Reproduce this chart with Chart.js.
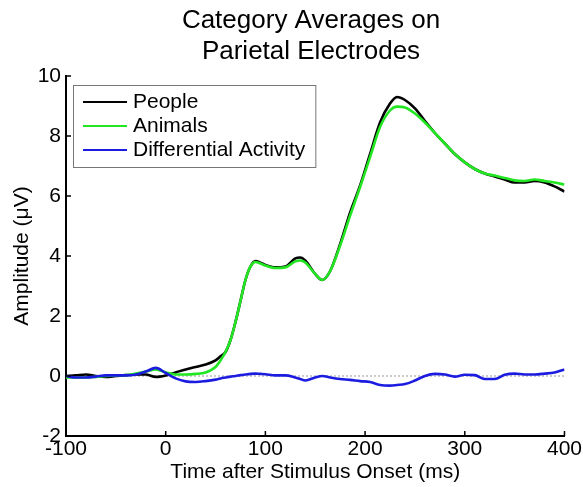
<!DOCTYPE html>
<html>
<head>
<meta charset="utf-8">
<script src="https://cdn.jsdelivr.net/npm/chart.js@4.4.1/dist/chart.umd.min.js"></script>
<style>
  html, body { margin: 0; padding: 0; background: #fff; }
  #wrap { width: 583px; height: 487px; }
</style>
</head>
<body>
<div id="wrap"><canvas id="chart"></canvas></div>
<script>
// Time points (ms after stimulus onset)
const timeMs = [-100, -90, -80, -70, -60, -50, -40, -30, -20, -10, 0, 10, 20, 30, 40, 50, 55, 60, 65, 70,
  75, 80, 85, 90, 95, 100, 110, 120, 130, 135, 140, 150, 157, 165, 175, 185, 195, 205, 215, 225,
  232, 240, 250, 260, 270, 280, 290, 300, 310, 320, 330, 340, 350, 360, 370, 380, 390, 400];

// Amplitudes (uV)
const people = [0.0, 0.02, 0.05, 0.0, -0.03, 0.0, 0.03, 0.05, 0.05, -0.03, 0.02, 0.12, 0.22, 0.3, 0.38, 0.52, 0.66, 0.8, 1.2, 1.8,
  2.5, 3.2, 3.65, 3.83, 3.78, 3.7, 3.62, 3.65, 3.92, 3.95, 3.85, 3.4, 3.2, 3.5, 4.4, 5.45, 6.35, 7.4, 8.45, 9.08,
  9.3, 9.2, 8.92, 8.5, 8.1, 7.75, 7.4, 7.12, 6.9, 6.75, 6.65, 6.55, 6.45, 6.45, 6.5, 6.45, 6.32, 6.15];

const animals = [-0.05, -0.05, -0.05, -0.03, 0.0, 0.02, 0.03, 0.08, 0.15, 0.22, 0.12, 0.05, 0.05, 0.07, 0.12, 0.3, 0.52, 0.8, 1.2, 1.8,
  2.5, 3.2, 3.65, 3.8, 3.75, 3.68, 3.6, 3.62, 3.82, 3.85, 3.78, 3.4, 3.2, 3.5, 4.35, 5.35, 6.3, 7.3, 8.3, 8.85,
  8.98, 8.95, 8.75, 8.45, 8.1, 7.75, 7.4, 7.12, 6.9, 6.75, 6.68, 6.6, 6.52, 6.5, 6.55, 6.5, 6.45, 6.38];

const differential = [0.0, -0.05, -0.05, -0.02, 0.02, 0.02, 0.02, 0.05, 0.15, 0.27, 0.1, -0.08, -0.18, -0.2, -0.17, -0.12, -0.08, -0.05, -0.02, 0.0,
  0.03, 0.05, 0.07, 0.08, 0.07, 0.06, 0.02, 0.02, -0.05, -0.1, -0.15, -0.05, 0.0, -0.05, -0.1, -0.13, -0.17, -0.2, -0.3, -0.32,
  -0.3, -0.27, -0.15, 0.0, 0.07, 0.05, -0.02, 0.04, 0.03, -0.1, -0.1, 0.04, 0.08, 0.05, 0.05, 0.08, 0.12, 0.22];

const xTicks = [-100, 0, 100, 200, 300, 400];
const yTicks = [-2, 0, 2, 4, 6, 8, 10];
const titleLines = ['Category Averages on', 'Parietal Electrodes'];

const FONT = "'Liberation Sans', Arial, sans-serif";

const toPoints = vals => vals.map((v, i) => ({ x: timeMs[i], y: v }));

// Title, inward tick marks and the boxed legend, MATLAB style
const matlabLook = {
  id: 'matlabLook',
  afterDraw(chart) {
    const ctx = chart.ctx;
    const area = chart.chartArea;
    const xs = chart.scales.x;
    const ys = chart.scales.y;

    ctx.save();
    // Inward ticks
    ctx.strokeStyle = '#000';
    ctx.lineWidth = 1.5;
    ctx.beginPath();
    xTicks.forEach(t => {
      const px = xs.getPixelForValue(t);
      ctx.moveTo(px, area.bottom);
      ctx.lineTo(px, area.bottom - 5);
    });
    yTicks.forEach(t => {
      const py = ys.getPixelForValue(t);
      ctx.moveTo(area.left, py);
      ctx.lineTo(area.left + 5, py);
    });
    ctx.stroke();

    // Title
    ctx.fillStyle = '#000';
    ctx.font = '26px ' + FONT;
    ctx.textAlign = 'center';
    ctx.textBaseline = 'alphabetic';
    titleLines.forEach((line, i) => ctx.fillText(line, 311, 28 + i * 31));

    // Legend
    const items = chart.data.datasets.filter(d => d.label);
    ctx.font = '21px ' + FONT;
    const textW = Math.max(...items.map(d => ctx.measureText(d.label).width));
    const bx = area.left + 7, by = area.top + 9;
    const bw = 60 + textW + 10, bh = 82;
    ctx.fillStyle = '#fff';
    ctx.fillRect(bx, by, bw, bh);
    ctx.strokeStyle = '#777';
    ctx.lineWidth = 1;
    ctx.strokeRect(bx + 0.5, by + 0.5, bw, bh);
    items.forEach((d, i) => {
      const cy = by + 17 + i * 24;
      ctx.strokeStyle = d.borderColor;
      ctx.lineWidth = 2;
      ctx.beginPath();
      ctx.moveTo(bx + 10, cy);
      ctx.lineTo(bx + 54, cy);
      ctx.stroke();
      ctx.fillStyle = '#000';
      ctx.textAlign = 'left';
      ctx.textBaseline = 'middle';
      ctx.fillText(d.label, bx + 60, cy);
    });
    ctx.restore();
  }
};

new Chart(document.getElementById('chart'), {
  type: 'line',
  data: {
    datasets: [
      { label: 'People', data: toPoints(people), borderColor: '#000000', borderWidth: 2.6, order: 3 },
      { label: 'Animals', data: toPoints(animals), borderColor: '#22e622', borderWidth: 2.6, order: 2 },
      { label: 'Differential Activity', data: toPoints(differential), borderColor: '#1c1ce0', borderWidth: 2.6, order: 1 },
      { data: [{ x: -100, y: 0 }, { x: 400, y: 0 }], borderColor: '#999', borderWidth: 1.2, borderDash: [2, 2], order: 4 }
    ]
  },
  options: {
    responsive: true,
    maintainAspectRatio: false,
    animation: false,
    layout: { padding: { top: 76, right: 17, left: 0, bottom: 0 } },
    elements: {
      point: { radius: 0 },
      line: { cubicInterpolationMode: 'monotone', fill: false }
    },
    plugins: {
      legend: { display: false },
      title: { display: false },
      tooltip: { enabled: false }
    },
    scales: {
      x: {
        type: 'linear',
        min: -100,
        max: 400,
        afterFit: s => { s.height = 51; },
        afterBuildTicks: s => { s.ticks = xTicks.map(v => ({ value: v })); },
        grid: { display: false, drawTicks: false },
        border: { display: true, color: '#000', width: 2 },
        ticks: { color: '#000', padding: 1, maxRotation: 0, font: { family: FONT, size: 21 } },
        title: {
          display: true,
          text: 'Time after Stimulus Onset (ms)',
          color: '#000',
          padding: { top: 0, bottom: 2 },
          font: { family: FONT, size: 21 }
        }
      },
      y: {
        min: -2,
        max: 10,
        afterFit: s => { s.width = 66; },
        afterBuildTicks: s => { s.ticks = yTicks.map(v => ({ value: v })); },
        grid: { display: false, drawTicks: false },
        border: { display: true, color: '#000', width: 2 },
        ticks: { color: '#000', padding: 5, font: { family: FONT, size: 21 } },
        title: {
          display: true,
          text: 'Amplitude (μV)',
          color: '#000',
          padding: { top: 10, bottom: 0 },
          font: { family: FONT, size: 21 }
        }
      }
    }
  },
  plugins: [matlabLook]
});
</script>
</body>
</html>
